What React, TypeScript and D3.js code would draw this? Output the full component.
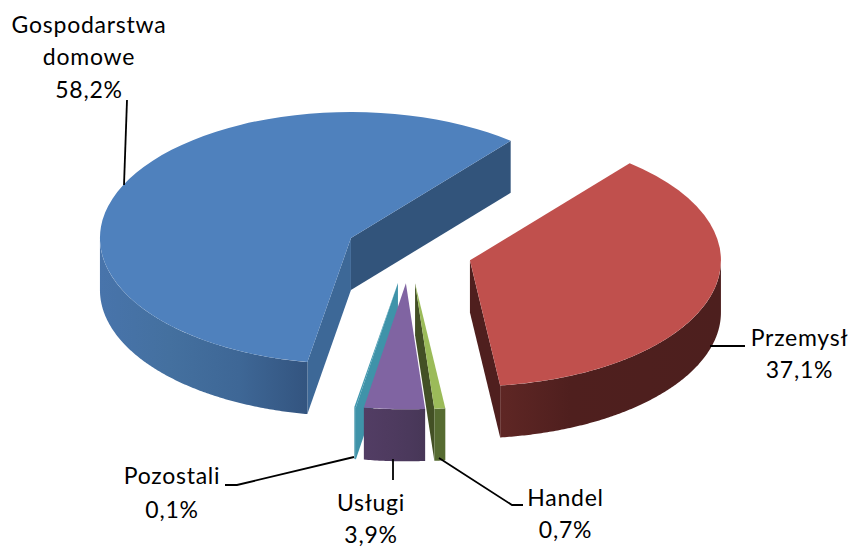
import React from "react";
import * as d3 from "d3";

const categories = ["Gospodarstwa domowe", "Przemysł", "Handel", "Usługi", "Pozostali"];
const shares = [58.2, 37.1, 0.7, 3.9, 0.1];
const shareLabels = ["58,2%", "37,1%", "0,7%", "3,9%", "0,1%"];

const topColors = ["#4f81bd", "#c0504d", "#9bbb59", "#8064a2", "#4198af"];
const rimStops = [
  ["#4874ab", "#44709f", "#3e6796", "#33547f"],
  ["#602725", "#4f1f1e", "#4e1f1e", "#4d1f1e"],
  ["#566b31", "#566b31", "#566b31", "#566b31"],
  ["#523d64", "#4f3b60", "#4b395c", "#463655"],
  ["#3f93a9", "#3f93a9", "#3f93a9", "#3f93a9"],
];
const startWallColors = ["#3d6897", "#4f1f1e", "#566b31", "#463655", "#3f93a9"];
const endWallColors = ["#32547b", "#4f1f1e", "#435025", "#463655", "#3f93a9"];

const labelLines = [
  ["Gospodarstwa", "domowe", "58,2%"],
  ["Przemysł", "37,1%"],
  ["Handel", "0,7%"],
  ["Usługi", "3,9%"],
  ["Pozostali", "0,1%"],
];
const labelCenters = [89, 799.5, 565.5, 371, 172];
const labelBaselines = [
  [32.5, 65, 98],
  [346, 378],
  [506, 538],
  [511, 543],
  [484, 517.5],
];
const leaders: [number, number][][] = [
  [[127, 100], [124, 185]],
  [[710, 346], [745, 346]],
  [[439, 458], [512, 505], [523, 505]],
  [[393, 459], [393, 480]],
  [[354, 457], [237, 485], [225, 485]],
];

const WIDTH = 851;
const HEIGHT = 547;
const CX = 408.8;
const CY = 251.4;
const RX = 251;
const RY = 126;
const DEPTH = 52;
const EXPLODE = 63.7;
const FONT_SIZE = 23;
const LETTER_SPACING = 0.75;

const deg = Math.PI / 180;
const arcs = d3
  .pie<number>()
  .sort(null)
  .startAngle(190 * deg)
  .endAngle(550 * deg)(shares);

const topArc = d3.arc<unknown, d3.PieArcDatum<number>>().innerRadius(0).outerRadius(RX);
const linePath = d3.line();
const ratio = RY / RX;

function facing(a: number, side: "start" | "end") {
  // screen-y component of the wall's normal: positive means it faces the viewer
  return side === "start" ? -Math.sin(a) > 0 : Math.sin(a) > 0;
}

export default function App() {
  const order = [0, 1, 2, 4, 3];
  return (
    <svg
      width={WIDTH}
      height={HEIGHT}
      viewBox={`0 0 ${WIDTH} ${HEIGHT}`}
      style={{ position: "absolute", left: 0, top: 0, background: "#fff" }}
    >
      <defs>
        {arcs.map((a, i) => {
          const mid = (a.startAngle + a.endAngle) / 2;
          const ax = CX + EXPLODE * Math.sin(mid);
          const span = d3.scaleLinear().domain([0, 1]).range(
            i === 1 ? [ax + RX * 0.1, ax + RX] : i === 0 ? [ax - RX, ax - RX * 0.17] : [ax - RX * 0.17, ax + RX * 0.1]
          );
          const stops = rimStops[i];
          return (
            <linearGradient key={i} id={`rim${i}`} gradientUnits="userSpaceOnUse" x1={span(0)} x2={span(1)} y1={0} y2={0}>
              {stops.map((c, k) => (
                <stop key={k} offset={k / (stops.length - 1)} stopColor={c} />
              ))}
            </linearGradient>
          );
        })}
      </defs>

      {order.map((i) => {
        const a = arcs[i];
        const mid = (a.startAngle + a.endAngle) / 2;
        const ax = CX + EXPLODE * Math.sin(mid);
        const ay = CY - EXPLODE * ratio * Math.cos(mid);
        const pt = (t: number, dy = 0): [number, number] => [
          ax + RX * Math.sin(t),
          ay - RY * Math.cos(t) + dy,
        ];
        const wall = (t: number) =>
          linePath([[ax, ay], pt(t), pt(t, DEPTH), [ax, ay + DEPTH]]) + "Z";

        // front rim: the part of the slice's arc lying in the lower half of the ellipse
        const rimParts: string[] = [];
        for (const shift of [0, 360 * deg]) {
          const from = Math.max(a.startAngle, 90 * deg + shift);
          const to = Math.min(a.endAngle, 270 * deg + shift);
          if (to > from) {
            const ts = d3.range(from, to, 0.5 * deg).concat(to);
            const upper = ts.map((t) => pt(t));
            const lower = ts.map((t) => pt(t, DEPTH)).reverse();
            rimParts.push(linePath(upper.concat(lower)) + "Z");
          }
        }

        return (
          <g key={i}>
            {facing(a.startAngle, "start") && <path d={wall(a.startAngle)} fill={startWallColors[i]} />}
            {facing(a.endAngle, "end") && <path d={wall(a.endAngle)} fill={endWallColors[i]} />}
            {rimParts.map((d, k) => (
              <path key={k} d={d} fill={`url(#rim${i})`} />
            ))}
            <path
              d={topArc(a) as string}
              transform={`translate(${ax},${ay}) scale(1,${ratio})`}
              fill={topColors[i]}
            />
          </g>
        );
      })}

      {leaders.map((pts, i) => (
        <path key={i} d={linePath(pts) as string} fill="none" stroke="#000" strokeWidth={1.8} />
      ))}

      {categories.map((c, i) => (
        <text
          key={c}
          data-share={shareLabels[i]}
          textAnchor="middle"
          fontFamily="Lato, 'Open Sans', sans-serif"
          fontSize={FONT_SIZE}
          letterSpacing={LETTER_SPACING}
          fill="#000"
        >
          {labelLines[i].map((line, k) => (
            <tspan key={k} x={labelCenters[i]} y={labelBaselines[i][k]}>
              {line}
            </tspan>
          ))}
        </text>
      ))}
    </svg>
  );
}
